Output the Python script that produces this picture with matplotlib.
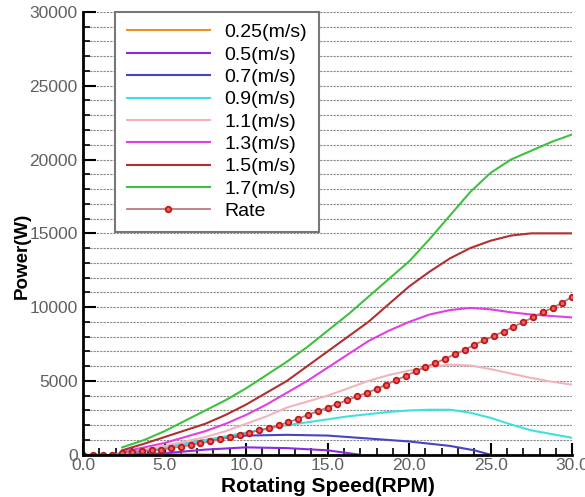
import matplotlib
matplotlib.use("Agg")
import matplotlib.pyplot as plt
from matplotlib.ticker import MultipleLocator, FormatStrFormatter

plt.rcParams['font.family'] = ['Liberation Sans', 'DejaVu Sans']

# Speed curves (RPM, W)
speed_x = [2.4, 3.75, 5.0, 6.25, 7.5, 8.75, 10.0, 11.25, 12.5, 13.75, 15.0,
           16.25, 17.5, 18.75, 20.0, 21.25, 22.5, 23.75, 25.0, 26.25, 27.5,
           28.75, 30.0]

p_025_x = [2.4, 5.0, 7.5, 9.0]
p_025 = [0, 30, 20, 0]

p_05_x = [2.4, 5.0, 7.5, 10.0, 12.5, 15.0, 17.0]
p_05 = [0, 100, 350, 500, 450, 300, 0]

p_07_x = [2.4, 5.0, 7.5, 10.0, 12.5, 15.0, 17.5, 20.0, 22.5, 24.0, 25.0]
p_07 = [50, 500, 1000, 1300, 1350, 1300, 1100, 900, 600, 300, 0]

p_09 = [100, 300, 500, 750, 1000, 1250, 1500, 1750, 2000, 2200, 2400, 2600,
        2750, 2900, 3000, 3050, 3050, 2850, 2500, 2050, 1650, 1400, 1150]
p_11 = [100, 350, 600, 900, 1200, 1600, 2100, 2600, 3200, 3600, 4000, 4500,
        5000, 5400, 5700, 5950, 6100, 6050, 5800, 5500, 5200, 4950, 4750]
p_13 = [200, 500, 800, 1200, 1600, 2100, 2700, 3400, 4200, 5000, 5900, 6800,
        7700, 8400, 9000, 9500, 9800, 9950, 9850, 9650, 9500, 9400, 9300]
p_15 = [300, 750, 1200, 1650, 2100, 2700, 3400, 4200, 5000, 6000, 7000, 8000,
        9000, 10200, 11400, 12400, 13300, 14000, 14500, 14850, 15000, 15000, 15000]
p_17 = [500, 1000, 1600, 2300, 3000, 3700, 4500, 5400, 6300, 7300, 8400, 9500,
        10700, 11900, 13100, 14600, 16200, 17800, 19100, 20000, 20600, 21200, 21700]

rate_x = [0.0, 0.6, 1.2, 1.8, 2.4, 3.0, 3.6, 4.2, 4.8, 5.4, 6.0, 6.6, 7.2, 7.8,
          8.4, 9.0, 9.6, 10.2, 10.8, 11.4, 12.0, 12.6, 13.2, 13.8, 14.4, 15.0,
          15.6, 16.2, 16.8, 17.4, 18.0, 18.6, 19.2, 19.8, 20.4, 21.0, 21.6,
          22.2, 22.8, 23.4, 24.0, 24.6, 25.2, 25.8, 26.4, 27.0, 27.6, 28.2,
          28.8, 29.4, 30.0]
rate_y = [0, 0, 0, 0, 150, 200, 250, 300, 350, 450, 550, 650, 800, 900,
          1050, 1200, 1350, 1500, 1650, 1800, 2000, 2200, 2450, 2700, 2950, 3200,
          3450, 3700, 3950, 4200, 4450, 4750, 5050, 5350, 5650, 5950, 6200,
          6500, 6800, 7100, 7450, 7750, 8050, 8350, 8650, 9000, 9300, 9650,
          9950, 10300, 10700]

fig = plt.figure(figsize=(5.85, 4.97), dpi=100)
ax = fig.add_axes([0.142, 0.085, 0.836, 0.891])

ax.plot(p_025_x, p_025, color='#e8922a', lw=1.5, label='0.25(m/s)')
ax.plot(p_05_x, p_05, color='#8a2be2', lw=1.5, label='0.5(m/s)')
ax.plot(p_07_x, p_07, color='#4545c8', lw=1.5, label='0.7(m/s)')
ax.plot(speed_x, p_09, color='#40e0e0', lw=1.5, label='0.9(m/s)')
ax.plot(speed_x, p_11, color='#f2b4bc', lw=1.5, label='1.1(m/s)')
ax.plot(speed_x, p_13, color='#e040e0', lw=1.5, label='1.3(m/s)')
ax.plot(speed_x, p_15, color='#b03030', lw=1.5, label='1.5(m/s)')
ax.plot(speed_x, p_17, color='#40c040', lw=1.5, label='1.7(m/s)')
ax.plot(rate_x, rate_y, color='#c07878', lw=1.3, marker='o', ms=4,
        mfc='#e86060', mec='#c01818', mew=1.3, label='Rate')

ax.set_xlim(0, 30)
ax.set_ylim(0, 30000)

ax.xaxis.set_major_locator(MultipleLocator(5))
ax.xaxis.set_minor_locator(MultipleLocator(1))
ax.xaxis.set_major_formatter(FormatStrFormatter('%.1f'))
ax.yaxis.set_major_locator(MultipleLocator(5000))
ax.yaxis.set_minor_locator(MultipleLocator(1000))

ax.tick_params(which='major', direction='in', length=9, width=1.5,
               labelsize=12.5, labelcolor='#606060', top=False, right=False)
ax.tick_params(which='minor', direction='in', length=5, width=1.2,
               top=False, right=False)
ax.tick_params(axis='x', pad=2)
ax.tick_params(axis='y', pad=4)

ax.grid(axis='y', which='both', linestyle=(0, (2, 1)), color='#888888', lw=0.8)
ax.set_axisbelow(True)

for s in ['top', 'right']:
    ax.spines[s].set_visible(False)
for s in ['left', 'bottom']:
    ax.spines[s].set_linewidth(2)

ax.set_xlabel('Rotating Speed(RPM)', fontsize=15, fontweight='bold')
ax.set_ylabel('Power(W)', fontsize=13.5, fontweight='bold')
ax.xaxis.set_label_coords(0.5, -0.05)
ax.yaxis.set_label_coords(-0.108, 0.45)

leg = ax.legend(loc='upper left', bbox_to_anchor=(0.065, 1.0), fontsize=14,
                handlelength=4.3, handletextpad=0.75, labelspacing=0.245,
                borderpad=0.6, borderaxespad=0, fancybox=False, framealpha=1,
                edgecolor='#777777')
leg.get_frame().set_linewidth(1.5)

fig.savefig('out.png', dpi=100)
